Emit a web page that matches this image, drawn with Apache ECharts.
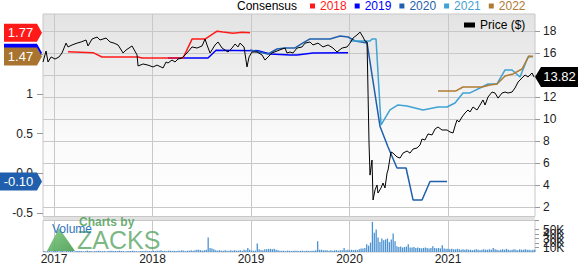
<!DOCTYPE html>
<html><head><meta charset="utf-8">
<script src="https://cdn.jsdelivr.net/npm/echarts/dist/echarts.min.js"></script>
<style>html,body{margin:0;padding:0;background:#fff}#c{width:578px;height:265px}</style>
</head><body><div id="c"></div>
<script>
// ---- axis ranges & ticks ----
const xMin = 2016.888, xMax = 2021.883;
const yearTicks = [2017, 2018, 2019, 2020, 2021];
const epsTickValues = [-0.5, 0, 0.5, 1, 1.5];
const epsTickLabels = ['-0.5', '0.0', '0.5', '1', '1.5'];
const priceTickValues = [2, 4, 6, 8, 10, 12, 14, 16, 18];
const volumeTickValues = [0, 10, 20, 30, 40, 50, 60, 70];
const volumeLabelValues = [0, 10, 20, 30, 40, 50, 60];

// ---- price ($), decimal-year x ----
const priceYears = [2016.888,2016.919,2016.939,2016.970,2017.010,2017.051,2017.081,2017.122,2017.142,2017.183,
2017.234,2017.274,2017.325,2017.345,2017.386,2017.437,2017.467,2017.528,2017.569,2017.609,
2017.650,2017.701,2017.731,2017.792,2017.843,2017.853,2017.904,2017.954,2018.005,2018.046,
2018.107,2018.137,2018.157,2018.198,2018.228,2018.259,2018.299,2018.350,2018.401,2018.452,
2018.503,2018.533,2018.553,2018.584,2018.635,2018.665,2018.706,2018.736,2018.766,2018.807,
2018.838,2018.868,2018.888,2018.929,2018.959,2018.980,2019.010,2019.061,2019.112,2019.142,
2019.173,2019.213,2019.264,2019.315,2019.345,2019.365,2019.396,2019.426,2019.467,2019.518,
2019.548,2019.599,2019.629,2019.680,2019.731,2019.782,2019.832,2019.873,2019.924,2019.975,
2020.005,2020.036,2020.076,2020.107,2020.137,2020.157,2020.178,2020.188,2020.198,2020.208,
2020.228,2020.239,2020.259,2020.279,2020.289,2020.320,2020.340,2020.360,2020.381,2020.391,
2020.421,2020.442,2020.482,2020.513,2020.543,2020.584,2020.614,2020.645,2020.685,2020.716,
2020.736,2020.766,2020.797,2020.838,2020.868,2020.898,2020.939,2020.990,2021.020,2021.051,
2021.071,2021.091,2021.112,2021.142,2021.173,2021.203,2021.223,2021.254,2021.294,2021.325,
2021.355,2021.376,2021.406,2021.447,2021.477,2021.508,2021.548,2021.579,2021.609,2021.650,
2021.680,2021.711,2021.751,2021.782,2021.812,2021.853,2021.873];
const priceValues = [15.18,16.18,15.18,15.64,15.45,15.64,16.0,16.9,16.55,16.73,
16.9,17.0,17.18,16.64,17.27,17.45,17.18,17.36,17.0,16.9,
16.73,16.0,16.27,16.64,15.82,14.82,15.0,14.9,14.73,14.9,
14.64,15.18,15.09,15.36,15.18,15.45,15.55,16.0,16.55,16.45,
16.64,17.27,16.73,16.0,16.73,17.0,16.45,16.27,16.09,16.45,
16.82,16.55,16.9,16.55,14.73,15.64,16.09,16.09,15.82,15.36,
15.64,16.0,16.18,16.36,16.45,16.0,16.09,16.0,16.45,16.55,
16.9,17.0,16.73,16.9,16.55,16.73,16.45,16.09,16.45,16.55,
16.9,17.36,17.64,17.9,17.45,17.09,17.0,12.36,7.82,4.9,
6.27,2.64,3.55,4.0,3.27,3.73,4.18,3.73,5.09,5.36,
7.0,6.9,6.55,6.45,6.9,7.09,6.9,7.27,7.36,7.64,
8.18,8.09,8.64,8.55,9.09,9.27,9.0,9.0,8.82,8.73,
9.36,9.9,9.73,10.18,10.55,10.82,10.64,11.09,10.82,11.27,
11.73,11.27,12.0,12.45,12.36,11.9,12.36,12.45,12.36,12.45,
12.82,13.36,13.73,14.0,13.82,14.18,13.82];

// ---- consensus EPS estimates ----
const c2018Years = [2017.142,2017.396,2017.487,2017.853,2017.893,2018.310,2018.401,2018.533,2018.655,2018.716,2018.817,2018.909,2018.990];
const c2018Values = [1.53,1.52,1.465,1.465,1.453,1.453,1.69,1.69,1.79,1.78,1.765,1.775,1.77];
const c2019Years = [2018.157,2018.563,2018.645,2019.071,2019.193,2019.396,2019.467,2019.629,2019.985];
const c2019Values = [1.453,1.453,1.55,1.545,1.503,1.49,1.49,1.516,1.52];
const c2020Years = [2018.990,2019.173,2019.264,2019.345,2019.447,2019.528,2019.599,2019.802,2019.904,2019.985,2020.056,2020.178,2020.310,2020.391,2020.482,2020.574,2020.645,2020.736,2020.817,2020.990];
const c2020Values = [1.553,1.503,1.566,1.579,1.579,1.642,1.692,1.692,1.730,1.717,1.667,1.642,0.59,0.333,0.069,0.069,-0.333,-0.333,-0.10,-0.10];
const c2021Years = [2020.005,2020.208,2020.228,2020.269,2020.320,2020.411,2020.492,2020.584,2020.746,2020.898,2020.990,2021.071,2021.152,2021.223,2021.345,2021.406,2021.497,2021.579,2021.650,2021.731,2021.812,2021.863];
const c2021Values = [1.667,1.667,1.692,1.692,0.61,0.799,0.862,0.849,0.799,0.836,0.836,0.887,1.013,1.013,1.088,1.126,1.126,1.302,1.302,1.214,1.465,1.47];
const c2022Years = [2020.898,2021.081,2021.152,2021.294,2021.345,2021.426,2021.497,2021.579,2021.660,2021.751,2021.822,2021.863];
const c2022Values = [1.038,1.038,1.088,1.088,1.088,1.113,1.126,1.226,1.252,1.314,1.478,1.47];

// ---- weekly volume (thousands), first week starting at xMin ----
const volumeWeekStart = 2016.888;
const volumeValues = [2,1,2,2,1,2,3,2,1,2,2,1,2,2,3,2,1,2,2,2,
2,1,2,3,2,2,1,2,2,3,2,2,2,1,2,3,3,2,2,2,
3,2,2,1,2,2,2,3,2,2,1,2,2,2,3,2,2,2,3,2,
3,3,4,2,3,2,3,3,2,3,2,3,3,4,3,2,3,3,4,3,
4,5,5,4,3,4,5,32,9,8,6,4,3,4,3,3,4,3,3,4,
3,4,3,3,4,3,5,4,9,5,3,3,3,19,6,4,4,6,6,7,
7,6,7,5,4,3,3,3,2,3,3,2,3,3,3,2,3,3,2,3,
3,2,3,3,4,24,5,5,4,4,4,3,4,3,4,4,3,4,4,9,
4,5,4,5,4,5,4,6,8,8,9,17,14,21,67,43,50,32,22,30,
26,28,30,22,28,41,24,13,11,12,10,11,12,17,10,10,11,9,10,9,
8,9,10,9,8,9,13,9,8,9,8,15,8,7,7,6,7,6,6,7,
6,5,6,5,6,5,5,4,5,6,5,4,5,6,5,5,6,5,9,6,
5,4,5,6,5,7,5,4,5,6,5,4,6,5,5,6,5,5,4,5,5];

function zip(xs, ys) {
  if (xs.length !== ys.length) throw new Error('length mismatch ' + xs.length + ' vs ' + ys.length);
  return xs.map((x, i) => [x, ys[i]]);
}
const FONT = 'Liberation Sans, Arial, sans-serif';
const colors = {'2018':'#ff1a1a','2019':'#0000ff','2020':'#1f5fad','2021':'#3fa2d4','2022':'#b07b32'};

function leftTag(years, values, color, z, w) {
  const v = values[values.length - 1];
  w = w || 38;
  return {
    symbol: 'path://M0,0L' + (w - 5) + ',0L' + w + ',9L' + (w - 5) + ',18L0,18Z',
    symbolSize: [w, 18], symbolKeepAspect: false,
    symbolOffset: [-(w / 2 + 1), 0], silent: true, z: z,
    itemStyle: {color: color},
    label: {show: true, color: '#fff', fontSize: 13, fontFamily: FONT, offset: [-2.5, 0],
      formatter: () => v.toFixed(2)},
    data: [{coord: [xMin, v]}]
  };
}
function consSeries(name, years, values, tag) {
  const s = {
    name: name, type: 'line', xAxisIndex: 0, yAxisIndex: 0,
    data: zip(years, values), showSymbol: false, symbol: 'none',
    color: colors[name], lineStyle: {width: 1.5, color: colors[name]},
    emphasis: {disabled: true}
  };
  if (tag) s.markPoint = tag;
  return s;
}
const priceLast = priceValues[priceValues.length - 1];
const volumeData = volumeValues.map((v, i) => [volumeWeekStart + (i + 0.5) * 7 / 365.25, v]);

const chart = echarts.init(document.getElementById('c'), null, {renderer: 'svg'});
chart.setOption({
  animation: false,
  backgroundColor: '#fff',
  textStyle: {fontFamily: FONT},
  title: {text: 'Consensus', left: 237, top: 0, padding: 0,
    textStyle: {fontSize: 12, fontWeight: 'normal', color: '#000', fontFamily: FONT}},
  legend: [{
    left: 310, top: 0, padding: 0, itemWidth: 5, itemHeight: 5, itemGap: 8, icon: 'rect',
    selectedMode: false,
    data: ['2018','2019','2020','2021','2022'].map(n => ({name: n, textStyle: {color: colors[n]}})),
    textStyle: {fontSize: 12, fontFamily: FONT}
  }, {
    left: 464, top: 19, padding: 0, itemWidth: 11, itemHeight: 5, icon: 'rect', selectedMode: false,
    data: [{name: 'Price ($)'}], textStyle: {fontSize: 12, color: '#000', fontFamily: FONT}
  }],
  grid: [
    {left: 43, right: 43, top: 14, height: 202.5, show: true, borderColor: '#c8c8c8', borderWidth: 1,
      backgroundColor: new echarts.graphic.LinearGradient(0, 0, 0, 1, [
        {offset: 0, color: '#e3e3e3'}, {offset: 0.6, color: '#fafafa'}, {offset: 1, color: '#ffffff'}])},
    {left: 43, right: 43, top: 220.5, height: 32.5, show: true, borderColor: '#c8c8c8', borderWidth: 1,
      backgroundColor: '#fff'}
  ],
  xAxis: [
    {type: 'value', gridIndex: 0, min: xMin, max: xMax,
      axisLine: {show: false}, axisLabel: {show: false},
      axisTick: {show: false, customValues: yearTicks},
      splitLine: {show: true, lineStyle: {color: '#c8c8c8', width: 1}}},
    {type: 'value', gridIndex: 1, min: xMin, max: xMax,
      axisLine: {show: false},
      axisTick: {show: false, customValues: yearTicks},
      axisLabel: {show: true, customValues: yearTicks, margin: 1, fontSize: 12, color: '#222',
        fontFamily: FONT, formatter: v => String(Math.round(v))},
      splitLine: {show: true, lineStyle: {color: '#c8c8c8', width: 1}}}
  ],
  yAxis: [
    {type: 'value', gridIndex: 0, position: 'left', min: -0.541, max: 2.006,
      axisLine: {show: false}, splitLine: {show: false},
      axisTick: {show: true, length: 6, customValues: epsTickValues, lineStyle: {color: '#999'}},
      axisLabel: {show: true, customValues: epsTickValues, margin: 10, fontSize: 12, color: '#222',
        fontFamily: FONT, formatter: v => epsTickLabels[epsTickValues.indexOf(Math.round(v * 10) / 10)]}},
    {type: 'value', gridIndex: 0, position: 'right', min: 1.136, max: 19.545,
      axisLine: {show: false},
      axisTick: {show: true, length: 5, customValues: priceTickValues, lineStyle: {color: '#999'}},
      axisLabel: {show: true, customValues: priceTickValues, margin: 8, fontSize: 12, color: '#222',
        fontFamily: FONT},
      splitLine: {show: true, lineStyle: {color: '#c8c8c8', width: 1}}},
    {type: 'value', gridIndex: 1, position: 'right', min: 0, max: 70,
      axisLine: {show: false}, splitLine: {show: false},
      axisTick: {show: true, length: 4, customValues: volumeTickValues, lineStyle: {color: '#999'}},
      axisLabel: {show: true, customValues: volumeLabelValues, margin: 8, fontSize: 12, color: '#222',
        fontFamily: FONT, formatter: v => v === 0 ? '0' : v + 'K'}}
  ],
  graphic: [
    {type: 'rect', left: 43, top: 217, shape: {width: 492, height: 3}, style: {fill: '#e2e2e2'}, silent: true, z: 1},
    {type: 'polygon', shape: {points: [[47, 251], [59, 228], [75, 251]]},
      style: {fill: new echarts.graphic.LinearGradient(0, 0, 1, 1, [
        {offset: 0, color: 'rgba(120,200,120,0.85)'}, {offset: 1, color: 'rgba(60,150,70,0.85)'}])}, silent: true, z: 10},
    {type: 'text', left: 79, top: 216, silent: true, z: 10,
      style: {text: 'Charts by', fontSize: 12, fontWeight: 'bold', fontFamily: FONT, fill: 'rgba(80,160,90,0.85)'}},
    {type: 'text', left: 77, top: 227, silent: true, z: 10,
      style: {text: 'ZACKS', fontSize: 25, fontFamily: FONT, fill: 'rgba(80,160,90,0.75)'}},
    {type: 'text', left: 52, top: 223, silent: true, z: 11,
      style: {text: 'Volume', fontSize: 12, fontFamily: FONT, fill: '#2f74c0'}}
  ],
  series: [
    consSeries('2019', c2019Years, c2019Values, leftTag(c2019Years, c2019Values, colors['2019'], 5)),
    consSeries('2018', c2018Years, c2018Values, leftTag(c2018Years, c2018Values, colors['2018'], 6)),
    consSeries('2020', c2020Years, c2020Values, leftTag(c2020Years, c2020Values, colors['2020'], 6, 42)),
    consSeries('2021', c2021Years, c2021Values, null),
    consSeries('2022', c2022Years, c2022Values, leftTag(c2022Years, c2022Values, '#a8742f', 7)),
    {name: 'Price ($)', type: 'line', xAxisIndex: 0, yAxisIndex: 1,
      data: zip(priceYears, priceValues), showSymbol: false, symbol: 'none',
      color: '#000', lineStyle: {width: 1, color: '#000'}, emphasis: {disabled: true},
      markPoint: {
        symbol: 'path://M0,10L6,0L43,0L43,20L6,20Z', symbolSize: [43, 20], symbolKeepAspect: false,
        symbolOffset: [21.5, 0], silent: true, z: 8, itemStyle: {color: '#000'},
        label: {show: true, color: '#fff', fontSize: 13, fontFamily: FONT, offset: [3, 0],
          formatter: () => priceLast.toFixed(2)},
        data: [{coord: [xMax, priceLast]}]
      }},
    {name: 'Volume', type: 'bar', xAxisIndex: 1, yAxisIndex: 2, data: volumeData,
      barWidth: 1.3, itemStyle: {color: '#4b92d2'}, emphasis: {disabled: true}}
  ]
});
</script></body></html>
